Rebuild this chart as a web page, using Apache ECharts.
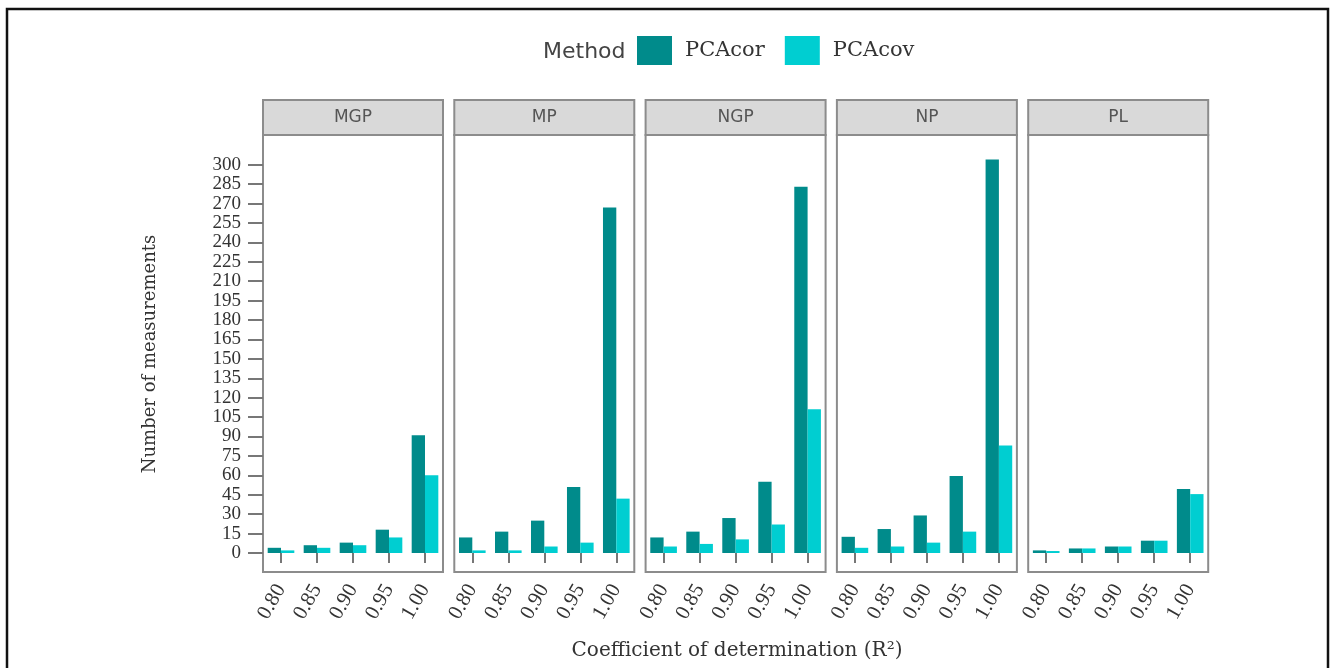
<!DOCTYPE html>
<html>
<head>
<meta charset="utf-8">
<script src="https://cdn.jsdelivr.net/npm/echarts@6/dist/echarts.min.js"></script>
<style>html,body{margin:0;padding:0;background:#fff;}#c{width:1333px;height:668px;}</style>
</head>
<body>
<div id="c"></div>
<script>
// ---- data ----
const categories = ['0.80', '0.85', '0.90', '0.95', '1.00'];
const panels = ['MGP', 'MP', 'NGP', 'NP', 'PL'];
const pcacor_MGP = [4, 6, 8, 18, 91];
const pcacor_MP  = [12, 16.5, 25, 51, 267];
const pcacor_NGP = [12, 16.5, 27, 55, 283];
const pcacor_NP  = [12.5, 18.5, 29, 59.5, 304];
const pcacor_PL  = [2, 3.5, 5, 9.5, 49.5];
const pcacov_MGP = [2, 4, 6, 12, 60];
const pcacov_MP  = [2, 2, 5, 8, 42];
const pcacov_NGP = [5, 7, 10.5, 22, 111];
const pcacov_NP  = [4, 5, 8, 16.5, 83];
const pcacov_PL  = [1.5, 3.5, 5, 9.5, 45.5];
const yTicks = [0,15,30,45,60,75,90,105,120,135,150,165,180,195,210,225,240,255,270,285,300];

const corData = [pcacor_MGP, pcacor_MP, pcacor_NGP, pcacor_NP, pcacor_PL];
const covData = [pcacov_MGP, pcacov_MP, pcacov_NGP, pcacov_NP, pcacov_PL];

// ---- layout ----
const COR = '#008b8b', COV = '#00ced1';
const panelLeft0 = 263, panelStep = 191.3, panelW = 180;
const plotTop = 135, plotBottom = 572, stripTop = 100;
const serif = 'DejaVu Serif';
const tserif = 'Liberation Serif';
const sans = 'DejaVu Sans';

const grids = [], xAxes = [], yAxes = [], series = [], graphics = [];
panels.forEach((p, i) => {
  const left = panelLeft0 + i * panelStep;
  grids.push({left: left, top: plotTop, width: panelW, height: plotBottom - plotTop,
    show: true, borderColor: '#8c8c8c', borderWidth: 2, backgroundColor: '#fff'});
  xAxes.push({type: 'category', gridIndex: i, data: categories,
    axisLine: {show: false},
    axisTick: {show: true, alignWithLabel: true, length: 10, lineStyle: {color: '#777', width: 2}},
    axisLabel: {rotate: 60, margin: 14, fontFamily: tserif, fontSize: 21, color: '#333'}});
  yAxes.push({type: 'value', gridIndex: i, min: -14.7, max: 323,
    splitLine: {show: false}, axisLine: {show: false},
    axisTick: {show: i === 0, length: 15, lineStyle: {color: '#777', width: 2}, customValues: yTicks},
    axisLabel: {show: i === 0, margin: 22, fontFamily: tserif, fontSize: 19, color: '#333', lineHeight: 16,
      hideOverlap: false, customValues: yTicks}});
  series.push({name: 'PCAcor', type: 'bar', xAxisIndex: i, yAxisIndex: i, data: corData[i],
    barWidth: '37%', barGap: '0%', itemStyle: {color: COR}});
  series.push({name: 'PCAcov', type: 'bar', xAxisIndex: i, yAxisIndex: i, data: covData[i],
    barWidth: '37%', barGap: '0%', itemStyle: {color: COV}});
  graphics.push({type: 'rect', shape: {x: left, y: stripTop, width: panelW, height: plotTop - stripTop},
    style: {fill: '#d9d9d9', stroke: '#8c8c8c', lineWidth: 2}});
  graphics.push({type: 'text', x: left + panelW / 2, y: (stripTop + plotTop) / 2,
    style: {text: p, fontFamily: sans, fontSize: 17, fill: '#555', align: 'center', verticalAlign: 'middle'}});
});

graphics.push({type: 'rect', shape: {x: 7, y: 9, width: 1321, height: 700},
  style: {fill: 'none', stroke: '#111', lineWidth: 2.5}, silent: true});
graphics.push({type: 'text', x: 150, y: 354, rotation: Math.PI / 2,
  style: {text: 'Number of measurements', fontFamily: serif, fontSize: 18, fill: '#333', align: 'center', verticalAlign: 'middle'}});
graphics.push({type: 'text', x: 737, y: 651,
  style: {text: 'Coefficient of determination (R²)', fontFamily: serif, fontSize: 20, fill: '#333', align: 'center', verticalAlign: 'middle'}});
graphics.push({type: 'text', x: 543, y: 52,
  style: {text: 'Method', fontFamily: sans, fontSize: 22, fill: '#444', align: 'left', verticalAlign: 'middle'}});

const chart = echarts.init(document.getElementById('c'));
chart.setOption({
  animation: false,
  backgroundColor: '#fff',
  legend: {data: ['PCAcor', 'PCAcov'], left: 637, top: 36, padding: 0, icon: 'rect', itemWidth: 35, itemHeight: 29,
    itemGap: 20, textStyle: {fontFamily: serif, fontSize: 21, color: '#333', padding: [0, 0, 0, 8]}},
  grid: grids, xAxis: xAxes, yAxis: yAxes, series: series, graphic: graphics
});
</script>
</body>
</html>
